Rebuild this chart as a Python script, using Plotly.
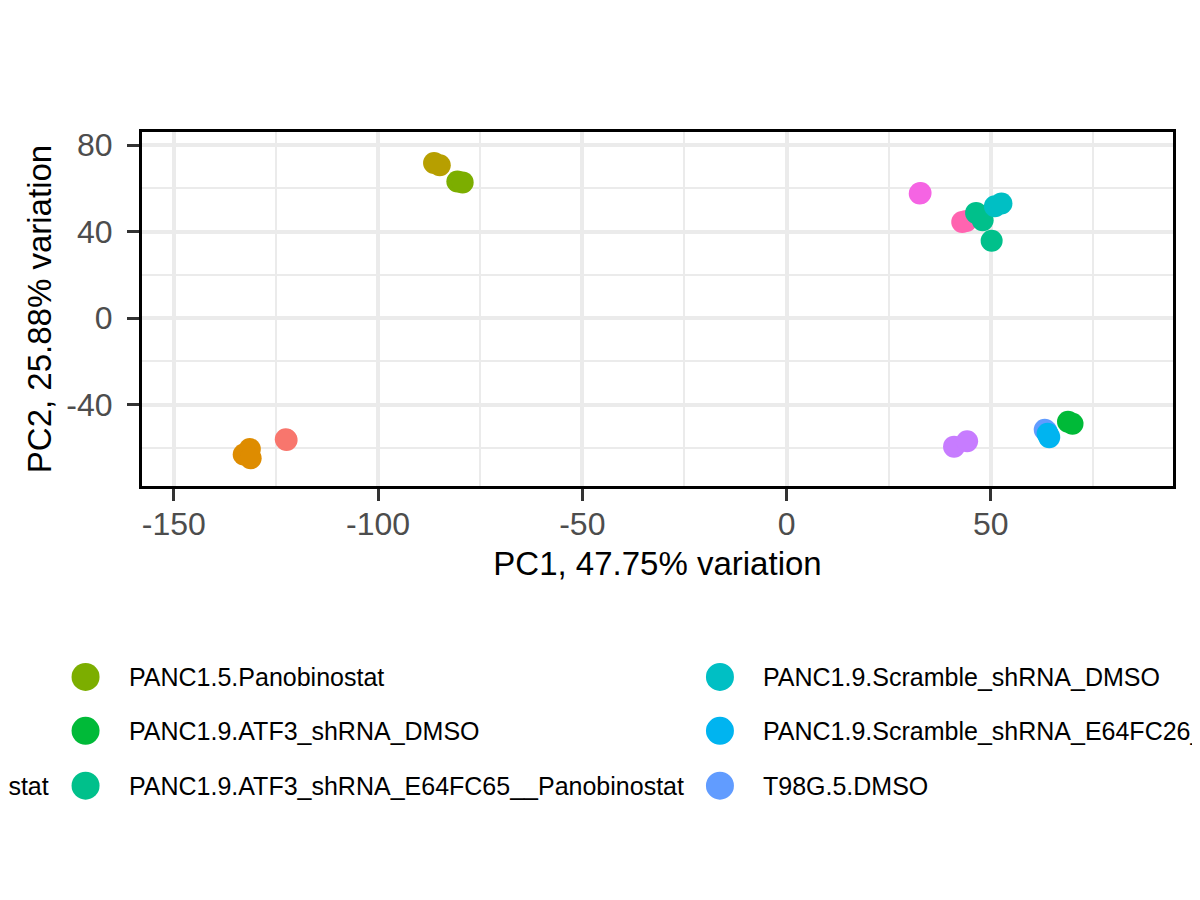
import plotly.graph_objects as go

# ---- data ----
groups = [
    "PANC1.5.DMSO",
    "PANC1.5.E64FC65",
    "PANC1.5.E64FC65__Panobinostat",
    "PANC1.5.Panobinostat",
    "PANC1.9.ATF3_shRNA_DMSO",
    "PANC1.9.ATF3_shRNA_E64FC65__Panobinostat",
    "PANC1.9.Scramble_shRNA_DMSO",
    "PANC1.9.Scramble_shRNA_E64FC26__Panobinostat",
    "T98G.5.DMSO",
    "T98G.5.E64FC65",
    "T98G.5.E64FC65__Panobinostat",
    "T98G.5.Panobinostat",
]
colors = ["#F8766D", "#DE8C00", "#B79F00", "#7CAE00", "#00BA38", "#00C08B",
          "#00BFC4", "#00B4F0", "#619CFF", "#C77CFF", "#F564E3", "#FF64B0"]

pc1 = {
    "PANC1.5.DMSO": [-122.6, -122.4],
    "PANC1.5.E64FC65": [-131.4, -132.9, -131.2],
    "PANC1.5.E64FC65__Panobinostat": [-86.3, -84.9],
    "PANC1.5.Panobinostat": [-80.6, -79.3],
    "PANC1.9.ATF3_shRNA_DMSO": [68.9, 70.0],
    "PANC1.9.ATF3_shRNA_E64FC65__Panobinostat": [46.4, 48.0, 50.2],
    "PANC1.9.Scramble_shRNA_DMSO": [51.0, 52.6],
    "PANC1.9.Scramble_shRNA_E64FC26__Panobinostat": [63.9, 64.3],
    "T98G.5.DMSO": [63.2, 63.6],
    "T98G.5.E64FC65": [41.0, 44.2],
    "T98G.5.E64FC65__Panobinostat": [32.6, 32.8],
    "T98G.5.Panobinostat": [43.0, 44.0],
}
pc2 = {
    "PANC1.5.DMSO": [-56.0, -56.3],
    "PANC1.5.E64FC65": [-60.5, -63.0, -64.8],
    "PANC1.5.E64FC65__Panobinostat": [71.8, 70.7],
    "PANC1.5.Panobinostat": [63.2, 62.8],
    "PANC1.9.ATF3_shRNA_DMSO": [-47.9, -48.8],
    "PANC1.9.ATF3_shRNA_E64FC65__Panobinostat": [48.7, 45.3, 35.8],
    "PANC1.9.Scramble_shRNA_DMSO": [51.8, 53.0],
    "PANC1.9.Scramble_shRNA_E64FC26__Panobinostat": [-53.4, -55.0],
    "T98G.5.DMSO": [-51.6, -52.2],
    "T98G.5.E64FC65": [-59.4, -56.9],
    "T98G.5.E64FC65__Panobinostat": [57.7, 57.9],
    "T98G.5.Panobinostat": [44.5, 44.9],
}

x_ticks = [-150, -100, -50, 0, 50]
y_ticks = [-40, 0, 40, 80]
x_minor = [-125, -75, -25, 25, 75]
y_minor = [-60, -20, 20, 60]
x_title = "PC1, 47.75% variation"
y_title = "PC2, 25.88% variation"

# drawing order (which groups sit on top)
draw_order = [0, 1, 2, 3, 10, 11, 5, 6, 9, 8, 7, 4]

FONT = "Liberation Sans, Arial, Helvetica, sans-serif"

fig = go.Figure()
for gi in draw_order:
    g = groups[gi]
    fig.add_trace(go.Scatter(
        x=pc1[g], y=pc2[g], mode="markers", name=g, showlegend=False,
        marker=dict(color=colors[gi], size=22, line=dict(width=0), opacity=1),
    ))

# ---- layout geometry (pixels) ----
PAGE_OFF = 8  # page body offset in the browser
W, H = 1200, 900
ML, MR, MT, MB = 133.5, 34.5, 123.5, 421.5
PW, PH = W - ML - MR, H - MT - MB


def px_x(p):
    # p: pixel position in the screenshot
    return (p - PAGE_OFF - ML) / PW


def px_y(p):
    return (H - MB - (p - PAGE_OFF)) / PH


axis_common = dict(
    showgrid=True, gridcolor="#EBEBEB", gridwidth=3.5,
    zeroline=False, showline=True, linecolor="black", linewidth=3, mirror=True,
    ticks="outside", ticklen=12, tickwidth=3, tickcolor="#333333",
    tickfont=dict(family=FONT, size=32, color="#4D4D4D"),
)

fig.update_layout(
    width=W, height=H,
    margin=dict(l=ML, r=MR, t=MT, b=MB, autoexpand=False),
    paper_bgcolor="white", plot_bgcolor="white",
    font=dict(family=FONT, color="black"),
    xaxis=dict(
        range=[-157.8, 94.6], tickmode="array", tickvals=x_ticks,
        ticktext=[str(v) for v in x_ticks],
        minor=dict(tickvals=x_minor, showgrid=True, gridcolor="#EBEBEB", gridwidth=1.8, ticklen=0),
        title=dict(text=x_title, font=dict(family=FONT, size=33, color="black"), standoff=11),
        ticklabelstandoff=-4,
        **axis_common,
    ),
    yaxis=dict(
        range=[-77.6, 86.1], tickmode="array", tickvals=y_ticks,
        ticktext=[str(v) for v in y_ticks],
        minor=dict(tickvals=y_minor, showgrid=True, gridcolor="#EBEBEB", gridwidth=1.8, ticklen=0),
        title=dict(text=y_title, font=dict(family=FONT, size=33, color="black"), standoff=5),
        ticklabelstandoff=8,
        **axis_common,
    ),
)

# ---- legend (4 columns x 3 rows, filled by column, like ggplot) ----
col_key_px = [-384, 85, 720, 1355]
row_px = [678, 732, 787]
key_d = 28
text_gap = 41
for i, g in enumerate(groups):
    c, r = divmod(i, 3)
    kx = col_key_px[c]
    ky = row_px[r]
    fig.add_shape(
        type="circle", xref="paper", yref="paper",
        xsizemode="pixel", ysizemode="pixel",
        xanchor=px_x(kx), yanchor=px_y(ky),
        x0=-key_d / 2, x1=key_d / 2, y0=-key_d / 2, y1=key_d / 2,
        fillcolor=colors[i], line=dict(width=0), layer="above",
    )
    fig.add_annotation(
        x=px_x(kx + text_gap), y=px_y(ky), xref="paper", yref="paper",
        text=g, showarrow=False, xanchor="left", yanchor="middle",
        font=dict(family=FONT, size=25, color="black"),
    )

fig.write_html("out.html")
